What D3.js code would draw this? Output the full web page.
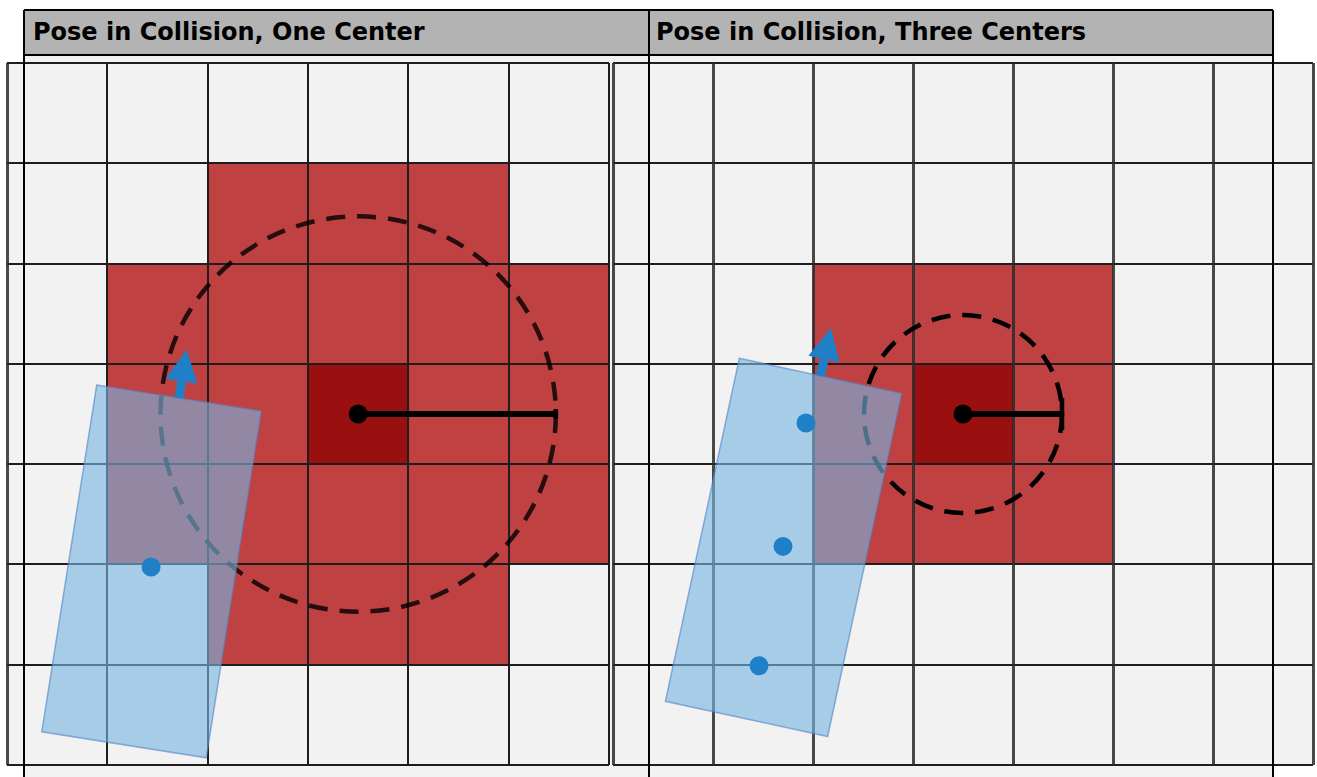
<!DOCTYPE html>
<html>
<head>
<meta charset="utf-8">
<script src="https://cdn.jsdelivr.net/npm/d3@7"></script>
<style>
  html, body { margin: 0; padding: 0; background: #ffffff; }
  svg { display: block; }
</style>
</head>
<body>
<svg id="chart" width="1317" height="777"></svg>
<script>
// ---------------- data ----------------
const titles = ["Pose in Collision, One Center", "Pose in Collision, Three Centers"];

// grid sizes [cols, rows]
const gridLeft = [6, 7];
const gridRight = [7, 7];

// occupied cells [col, row] (row counted from top)
const occupiedLeft = [
  [2,1],[3,1],[4,1],
  [1,2],[2,2],[3,2],[4,2],[5,2],
  [1,3],[2,3],[4,3],[5,3],
  [1,4],[2,4],[3,4],[4,4],[5,4],
  [2,5],[3,5],[4,5]
];
const centerCellLeft = [[3,3]];
const occupiedRight = [
  [2,2],[3,2],[4,2],
  [2,3],[4,3],
  [2,4],[3,4],[4,4]
];
const centerCellRight = [[3,3]];

// obstacle inflation circle: [cx, cy, radius] in cell units
const circleLeft = [3.5, 3.5, 1.97];
const circleRight = [3.5, 3.5, 0.99];

// vehicle footprint: [cx, cy, width, length, heading deg (clockwise from up)]
const vehicleLeft = [1.44, 5.07, 1.66, 3.5, 9];
const vehicleRight = [1.705, 4.83, 1.66, 3.5, 12.2];

// collision-check centers [x, y] in cell units
const centersLeft = [[1.436, 5.025]];
const centersRight = [[1.93, 3.59], [1.70, 4.82], [1.46, 6.01]];

// ---------------- drawing ----------------
const svg = d3.select("#chart");

const C = {
  cellBg: "#f2f2f2",
  header: "#b3b3b3",
  red: "#c04141",
  darkRed: "#9a0f10",
  grid: "#1e1e1e",
  vehFill: "rgba(120,180,225,0.62)",
  vehStroke: "rgba(80,130,195,0.6)",
  blue: "#1f80c8"
};

// table cell background
svg.append("rect").attr("x", 24).attr("y", 55).attr("width", 1249).attr("height", 722)
  .attr("fill", C.cellBg);

function panel(opts) {
  const x = d3.scaleLinear().domain([0, opts.grid[0]]).range(opts.xRange);
  const y = d3.scaleLinear().domain([0, opts.grid[1]]).range([63, 765]);
  const g = svg.append("g");

  // background
  g.append("rect").attr("x", x(0)).attr("y", y(0))
    .attr("width", x(opts.grid[0]) - x(0)).attr("height", y(opts.grid[1]) - y(0))
    .attr("fill", C.cellBg);

  // occupied cells
  g.selectAll("rect.occ").data(opts.occupied).join("rect").attr("class", "occ")
    .attr("x", d => x(d[0])).attr("y", d => y(d[1]))
    .attr("width", d => x(d[0] + 1) - x(d[0])).attr("height", d => y(d[1] + 1) - y(d[1]))
    .attr("fill", C.red);
  g.selectAll("rect.ctr").data(opts.centerCell).join("rect").attr("class", "ctr")
    .attr("x", d => x(d[0])).attr("y", d => y(d[1]))
    .attr("width", d => x(d[0] + 1) - x(d[0])).attr("height", d => y(d[1] + 1) - y(d[1]))
    .attr("fill", C.darkRed);

  // grid lines
  const xs = d3.range(opts.grid[0] + 1);
  const ys = d3.range(opts.grid[1] + 1);
  g.selectAll("line.h").data(ys).join("line").attr("class", "h")
    .attr("x1", x(0)).attr("x2", x(opts.grid[0]))
    .attr("y1", d => Math.round(y(d))).attr("y2", d => Math.round(y(d)))
    .attr("stroke", C.grid).attr("stroke-width", 2);
  const blur = d => opts.blurV || d === 0;
  g.selectAll("line.v").data(xs).join("line").attr("class", "v")
    .attr("x1", d => blur(d) ? x(d) + 0.5 : Math.round(x(d)))
    .attr("x2", d => blur(d) ? x(d) + 0.5 : Math.round(x(d)))
    .attr("y1", y(0)).attr("y2", y(opts.grid[1]))
    .attr("stroke", d => blur(d) ? "#2a2a2a" : C.grid)
    .attr("stroke-width", d => blur(d) ? 3 : 2)
    .attr("stroke-opacity", d => blur(d) ? 0.85 : 1);

  // inflation circle (dashed)
  const [cx, cy, r] = opts.circle;
  const rp = x(cx + r) - x(cx);
  g.append("circle").attr("cx", x(cx)).attr("cy", y(cy)).attr("r", rp)
    .attr("fill", "none").attr("stroke", "#000").attr("stroke-opacity", opts.circleOpacity)
    .attr("stroke-width", 4.5).attr("stroke-dasharray", "19,12");
  // radius line
  g.append("line").attr("x1", x(cx)).attr("y1", y(cy)).attr("x2", x(cx + r)).attr("y2", y(cy))
    .attr("stroke", "#000").attr("stroke-width", 6);
  g.append("line").attr("x1", x(cx + r)).attr("x2", x(cx + r))
    .attr("y1", y(cy) - opts.capHalf).attr("y2", y(cy) + opts.capHalf)
    .attr("stroke", "#000").attr("stroke-width", 4.5);
  g.append("circle").attr("cx", x(cx)).attr("cy", y(cy)).attr("r", 9.5).attr("fill", "#000");

  // vehicle footprint
  const [vx, vy, W, L, hdg] = opts.vehicle;
  const t = hdg * Math.PI / 180;
  const f = [Math.sin(t), -Math.cos(t)];   // forward
  const w = [Math.cos(t), Math.sin(t)];    // lateral
  const pt = (a, b) => [vx + w[0] * a + f[0] * b, vy + w[1] * a + f[1] * b];
  const corners = [pt(-W/2, L/2), pt(W/2, L/2), pt(W/2, -L/2), pt(-W/2, -L/2)];
  g.append("path")
    .attr("d", d3.line().x(d => x(d[0])).y(d => y(d[1]))(corners) + "Z")
    .attr("fill", C.vehFill).attr("stroke", C.vehStroke).attr("stroke-width", 1.5);

  // centers
  g.selectAll("circle.c").data(opts.centers).join("circle").attr("class", "c")
    .attr("cx", d => x(d[0])).attr("cy", d => y(d[1])).attr("r", 9.5).attr("fill", C.blue);

  // heading arrow
  const base = pt(0, L/2);
  const headStart = pt(0, L/2 + 0.17);
  const tip = pt(0, L/2 + 0.49);
  g.append("line").attr("x1", x(base[0])).attr("y1", y(base[1]))
    .attr("x2", x(headStart[0])).attr("y2", y(headStart[1]))
    .attr("stroke", C.blue).attr("stroke-width", 9);
  const hw = 0.16;
  const h1 = [headStart[0] + w[0] * hw, headStart[1] + w[1] * hw];
  const h2 = [headStart[0] - w[0] * hw, headStart[1] - w[1] * hw];
  g.append("path")
    .attr("d", d3.line().x(d => x(d[0])).y(d => y(d[1]))([h1, tip, h2]) + "Z")
    .attr("fill", C.blue);
}

panel({
  grid: gridLeft, xRange: [7, 609], occupied: occupiedLeft, centerCell: centerCellLeft,
  circle: circleLeft, circleOpacity: 0.8, capHalf: 5, vehicle: vehicleLeft,
  centers: centersLeft, blurV: false
});
panel({
  grid: gridRight, xRange: [613, 1313], occupied: occupiedRight, centerCell: centerCellRight,
  circle: circleRight, circleOpacity: 1, capHalf: 16, vehicle: vehicleRight,
  centers: centersRight, blurV: true
});

// header
svg.append("rect").attr("x", 24).attr("y", 10).attr("width", 1249).attr("height", 45)
  .attr("fill", C.header);
svg.selectAll("text.title").data(titles).join("text").attr("class", "title")
  .attr("x", (d, i) => i === 0 ? 33 : 656).attr("y", 40)
  .attr("font-family", "DejaVu Sans, sans-serif").attr("font-weight", "bold")
  .attr("font-size", 24).attr("fill", "#000").text(d => d);

// table borders
const borderX = [24, 649, 1273];
svg.selectAll("line.bv").data(borderX).join("line").attr("class", "bv")
  .attr("x1", d => d).attr("x2", d => d).attr("y1", 10).attr("y2", 777)
  .attr("stroke", "#000").attr("stroke-width", 2);
svg.selectAll("line.bh").data([10, 55]).join("line").attr("class", "bh")
  .attr("x1", 24).attr("x2", 1273).attr("y1", d => d).attr("y2", d => d)
  .attr("stroke", "#000").attr("stroke-width", 2);
</script>
</body>
</html>
